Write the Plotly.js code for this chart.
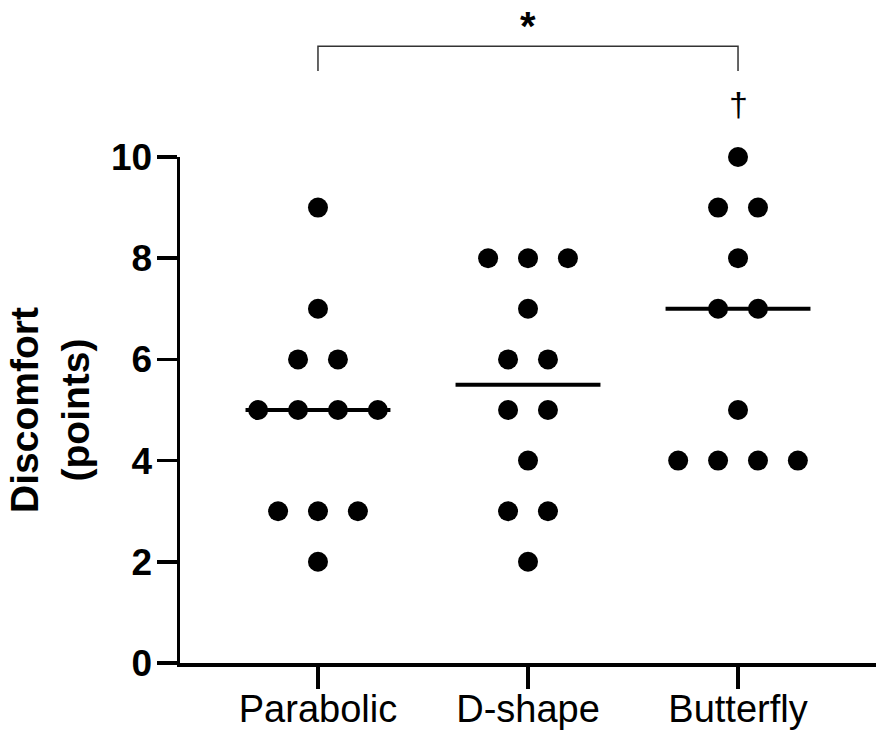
<!DOCTYPE html>
<html>
<head>
<meta charset="utf-8">
<script src="https://cdn.plot.ly/plotly-3.0.1.min.js"></script>
<style>html,body{margin:0;padding:0;background:#fff;}#chart{width:876px;height:732px;}</style>
</head>
<body>
<div id="chart"></div>
<script>
// ---- data ----
const categories = ["Parabolic", "D-shape", "Butterfly"];
const parabolic = [9, 7, 6, 6, 5, 5, 5, 5, 3, 3, 3, 2];
const dshape = [8, 8, 8, 7, 6, 6, 5, 5, 4, 3, 3, 2];
const butterfly = [10, 9, 9, 8, 7, 7, 5, 4, 4, 4, 4];
const yTicks = [0, 2, 4, 6, 8, 10];
const significance = "*";
const butterflyMark = "\u2020";

const groups = [parabolic, dshape, butterfly];
const FONT = "Liberation Sans, Arial, Helvetica, sans-serif";
const step = 0.19; // horizontal spacing of tied points (category units)
const halfMedian = 0.345;

function median(arr) {
  const s = arr.slice().sort((a, b) => a - b);
  const n = s.length;
  return n % 2 ? s[(n - 1) / 2] : (s[n / 2 - 1] + s[n / 2]) / 2;
}

const traces = [];
groups.forEach((vals, gi) => {
  const counts = {};
  vals.forEach(v => counts[v] = (counts[v] || 0) + 1);
  const seen = {};
  const xs = [], ys = [];
  vals.forEach(v => {
    const n = counts[v];
    const k = seen[v] || 0;
    seen[v] = k + 1;
    xs.push(gi + (k - (n - 1) / 2) * step);
    ys.push(v);
  });
  const m = median(vals);
  traces.push({
    type: "scatter", mode: "lines",
    x: [gi - halfMedian, gi + halfMedian], y: [m, m],
    line: {color: "#000", width: 4},
    cliponaxis: false, hoverinfo: "skip", showlegend: false
  });
  traces.push({
    type: "scatter", mode: "markers", x: xs, y: ys,
    marker: {size: 20, color: "#000", line: {width: 0}},
    cliponaxis: false, hoverinfo: "skip", showlegend: false
  });
});

const layout = {
  width: 876, height: 732,
  margin: {l: 180, r: 0, t: 157, b: 69, pad: 0},
  paper_bgcolor: "#fff", plot_bgcolor: "#fff",
  showlegend: false,
  font: {family: FONT, color: "#000"},
  xaxis: {
    range: [-0.657, 2.657],
    tickvals: [0, 1, 2], ticktext: categories,
    showgrid: false, zeroline: false,
    showline: true, linecolor: "#000", linewidth: 3.5,
    ticks: "outside", ticklen: 22, tickwidth: 3.5, tickcolor: "#000",
    ticklabelstandoff: -12,
    tickfont: {family: FONT, size: 38, color: "#000"}
  },
  yaxis: {
    range: [0, 10],
    tickvals: yTicks, ticktext: yTicks.map(v => "<b>" + v + "</b>"),
    showgrid: false, zeroline: false,
    showline: true, linecolor: "#000", linewidth: 3.5,
    ticks: "outside", ticklen: 20, tickwidth: 3.5, tickcolor: "#000",
    ticklabelstandoff: -3,
    tickfont: {family: FONT, size: 37, color: "#000"},
    title: {text: "<b>Discomfort<br>(points)</b>", font: {family: FONT, size: 39, color: "#000"}, standoff: 10}
  },
  shapes: [
    {type: "path", xref: "x", yref: "paper",
     path: "M 0 1.170 L 0 1.219 L 2 1.219 L 2 1.170",
     line: {color: "#333", width: 1.5}}
  ],
  annotations: [
    {xref: "x", yref: "paper", x: 1, y: 1.258, text: "<b>" + significance + "</b>",
     showarrow: false, font: {family: FONT, size: 40, color: "#000"}, xanchor: "center", yanchor: "middle"},
    {xref: "x", yref: "paper", x: 2, y: 1.104, text: butterflyMark,
     showarrow: false, font: {family: FONT, size: 34, color: "#000"}, xanchor: "center", yanchor: "middle"}
  ]
};

Plotly.newPlot("chart", traces, layout, {staticPlot: true, displayModeBar: false});
</script>
</body>
</html>
